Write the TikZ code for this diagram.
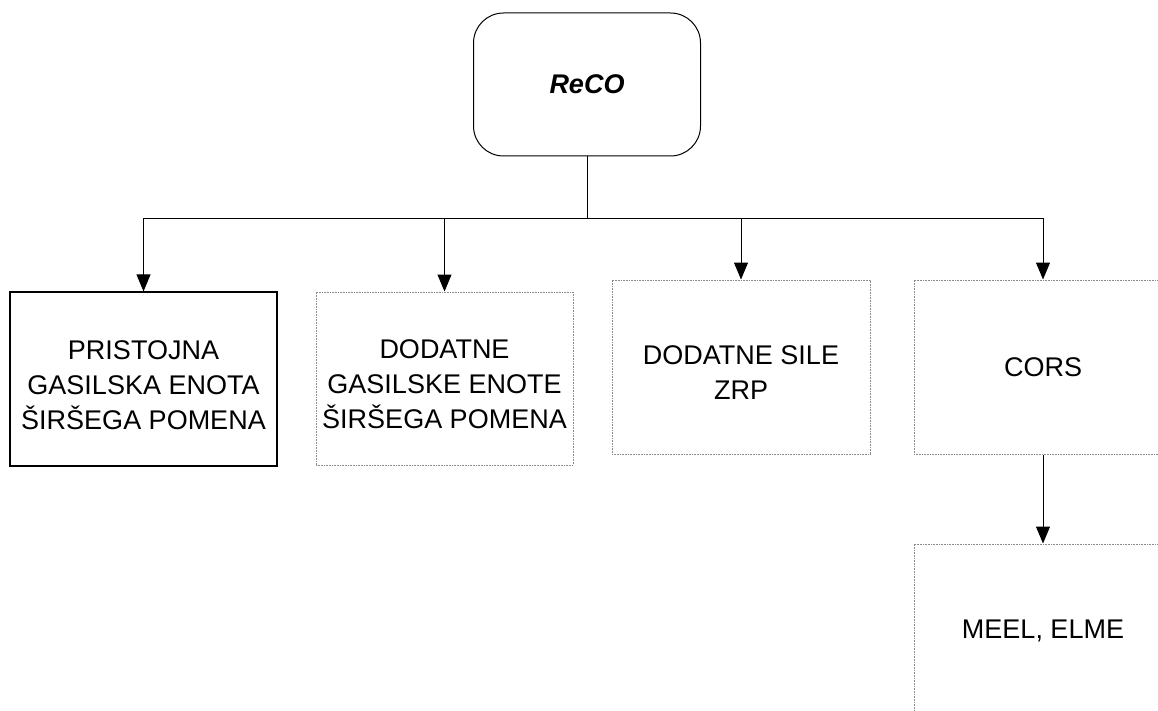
\documentclass[tikz,border=0pt]{standalone}
\usepackage{fontspec}
\setmainfont{Liberation Sans}
\usetikzlibrary{arrows.meta}
\begin{document}
\begin{tikzpicture}[x=1pt,y=-1pt,
  every node/.style={font=\fontsize{27}{35}\selectfont, align=center, inner sep=0pt},
  solidbox/.style={draw=black, line width=1.2pt, minimum width=267pt, minimum height=174pt},
  dotbox/.style={draw=black!45, line width=1pt, dash pattern=on 1pt off 0.6pt, minimum width=258pt, minimum height=174pt},
  rootbox/.style={draw=black, line width=1pt, rounded corners=30pt, minimum width=227pt, minimum height=143pt, font=\fontsize{27}{35}\selectfont\bfseries\itshape},
  lowtext/.style={label={[yshift=-6pt]center:#1}},
  conn/.style={draw=black, line width=1pt, -{Triangle[length=17pt,width=14pt]}},
  wire/.style={draw=black, line width=1pt}
]
\useasboundingbox (0,0) rectangle (1158,711);
\clip (0,0) rectangle (1158,711);
\fill[white] (0,0) rectangle (1158,711);

\node[rootbox] (reco) at (587,84.5) {ReCO};
\node[solidbox, lowtext={PRISTOJNA\\GASILSKA ENOTA\\ŠIRŠEGA POMENA}] (b1) at (143.5,379) {};
\node[dotbox, minimum width=257pt, minimum height=173pt, lowtext={DODATNE\\GASILSKE ENOTE\\ŠIRŠEGA POMENA}] (b2) at (444.5,378.5) {};
\node[dotbox, lowtext={DODATNE SILE\\ZRP}] (b3) at (741,367) {};
\node[dotbox] (b4) at (1043,367) {CORS};
\node[dotbox] (b5) at (1043,631) {MEEL, ELME};

\coordinate (bus) at (587,219);
\draw[wire] (reco.south) -- (bus);
\draw[conn] (bus) -| (b1.north);
\draw[conn] (bus) -| (b2.north);
\draw[conn] (bus) -| (b3.north);
\draw[conn] (bus) -| (b4.north);
\draw[conn] (b4.south) -- (b5.north);
\end{tikzpicture}
\end{document}
